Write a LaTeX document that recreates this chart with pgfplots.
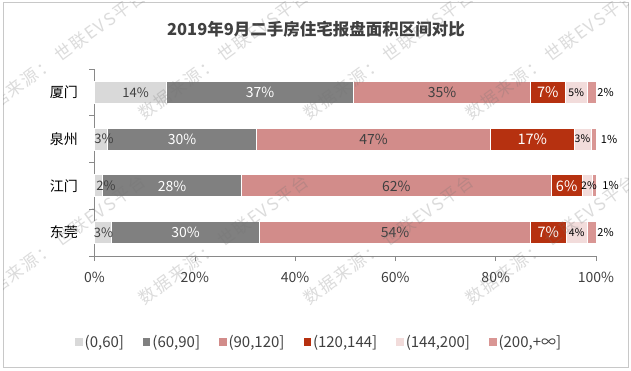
\documentclass[border=0pt]{standalone}
\usepackage{fontspec}
\setmainfont{Noto Sans CJK SC}
\newfontfamily\wmfont[LetterSpace=10]{Noto Sans CJK SC}
\usepackage{pgfplots}
\pgfplotsset{compat=1.18}
\usepackage{pgfplotstable}
\definecolor{c1}{HTML}{D9D9D9}
\definecolor{c2}{HTML}{808080}
\definecolor{c3}{HTML}{D28C8A}
\definecolor{c4}{HTML}{B63110}
\definecolor{c5}{HTML}{F2DCDB}
\definecolor{c6}{HTML}{D99694}
\definecolor{txt}{HTML}{404040}
\definecolor{axc}{HTML}{898989}
\definecolor{frm}{HTML}{C8C8C8}

% label centres (percent) and label text, one table per series
\pgfplotstableread{
x y l
8.2 0 14
1.9 1 3
2.3 2 2
1.8 3 3
}\labA
\pgfplotstableread{
x y l
33.0 0 37
17.45 1 30
15.45 2 28
18.15 3 30
}\labB
\pgfplotstableread{
x y l
69.3 0 35
55.65 1 47
60.2 2 62
59.95 3 54
}\labC
\pgfplotstableread{
x y l
90.4 0 7
87.3 1 17
94.15 2 6
90.5 3 7
}\labD
\pgfplotstableread{
x y l
96.05 0 5
97.3 1 3
98.6 2 2
96.15 3 4
}\labE
\pgfplotstableread{
x y l
101.9 0 2
102.6 1 1
102.9 2 1
101.9 3 2
}\labF

\pgfplotsset{
  sq/.style={legend image code/.code={\path[##1,draw=none] (0pt,-3.75pt) rectangle (7.5pt,3.75pt);}},
  lab/.style={only marks, mark=none, point meta=explicit symbolic,
    nodes near coords={\pgfplotspointmeta\%},
    nodes near coords style={anchor=center, inner sep=0pt, #1}},
}

\begin{document}
\begin{tikzpicture}[x=1pt,y=1pt]
\useasboundingbox (0,0) rectangle (631,370);
\fill[white] (0,0) rectangle (631,370);
\draw[frm, line width=0.8pt] (3,3) rectangle (628,368);
\node[font=\fontsize{16.5}{17}\selectfont\bfseries, text=txt] at (316,341) {2019年9月二手房住宅报盘面积区间对比};

\begin{axis}[
  at={(94.5pt,114pt)}, anchor=south west,
  width=501.5pt, height=187pt, scale only axis,
  xbar stacked, bar width=22pt,
  xmin=0, xmax=100, ymin=-0.5, ymax=3.5, y dir=reverse,
  clip=false,
  axis x line*=bottom, axis y line*=left,
  axis line style={axc, -},
  xtick={0,20,40,60,80,100},
  xticklabels={0\%,20\%,40\%,60\%,80\%,100\%},
  ytick={0,1,2,3},
  yticklabels={厦门,泉州,江门,东莞},
  minor ytick={-0.5,0.5,1.5,2.5,3.5},
  tick align=outside,
  major tick length=5pt, minor tick length=5.5pt,
  tick style={axc, line width=0.6pt},
  major y tick style={draw=none},
  x tick label style={font=\fontsize{14}{14}\selectfont, text=txt, yshift=-8pt},
  y tick label style={font=\fontsize{14}{14}\selectfont, text=black, xshift=-8pt},
  legend style={at={(0.448,-0.46)}, anchor=center, draw=none, fill=none,
    legend columns=6, /tikz/every even column/.append style={column sep=17pt},
    font=\fontsize{15}{15}\selectfont, text=txt},
  every axis plot/.append style={draw=white, line width=0.8pt},
]
\addplot[sq, fill=c1] coordinates {(14.4,0) (2.6,1) (1.6,2) (3.4,3)};
\addlegendentry{(0,60]}
\addplot[sq, fill=c2] coordinates {(37.2,0) (29.7,1) (27.7,2) (29.5,3)};
\addlegendentry{(60,90]}
\addplot[sq, fill=c3] coordinates {(35.4,0) (46.7,1) (61.8,2) (54.1,3)};
\addlegendentry{(90,120]}
\addplot[sq, fill=c4] coordinates {(6.8,0) (16.6,1) (6.1,2) (7.0,3)};
\addlegendentry{(120,144]}
\addplot[sq, fill=c5] coordinates {(4.5,0) (3.4,1) (2.1,2) (4.3,3)};
\addlegendentry{(144,200]}
\addplot[sq, fill=c6] coordinates {(1.7,0) (1.0,1) (0.7,2) (1.7,3)};
\addlegendentry{(200,+∞]}
\end{axis}

\begin{axis}[
  at={(94.5pt,114pt)}, anchor=south west,
  width=501.5pt, height=187pt, scale only axis,
  xmin=0, xmax=100, ymin=-0.5, ymax=3.5, y dir=reverse,
  clip=false, hide axis,
]
\addplot[lab={text=txt, font=\fontsize{13}{13}\selectfont}] table[x=x,y=y,meta=l] {\labA};
\addplot[lab={text=white, font=\fontsize{14}{14}\selectfont}] table[x=x,y=y,meta=l] {\labB};
\addplot[lab={text=txt, font=\fontsize{14}{14}\selectfont}] table[x=x,y=y,meta=l] {\labC};
\addplot[lab={text=white, font=\fontsize{14.5}{14}\selectfont}] table[x=x,y=y,meta=l] {\labD};
\addplot[lab={text=black, font=\fontsize{10.5}{11}\selectfont}] table[x=x,y=y,meta=l] {\labE};
\addplot[lab={text=black, font=\fontsize{11}{11}\selectfont}] table[x=x,y=y,meta=l] {\labF};
\end{axis}

\begin{scope}
\clip (3,3) rectangle (628,368);
\foreach \px/\py in {60/307, 223/307, 388/307, 550/307, 60/122, 223/122, 388/122, 550/122} {
  \node[rotate=36, anchor=base west, inner sep=0pt, text=black!55, opacity=0.25,
        font=\wmfont\fontsize{17}{17}\selectfont] at (\px,\py) {世联EVS平台};
  \node[rotate=36, anchor=base east, inner sep=0pt, text=black!55, opacity=0.25,
        font=\wmfont\fontsize{17}{17}\selectfont] at (\px-4,\py-3) {数据来源：};
}
\end{scope}
\end{tikzpicture}
\end{document}
